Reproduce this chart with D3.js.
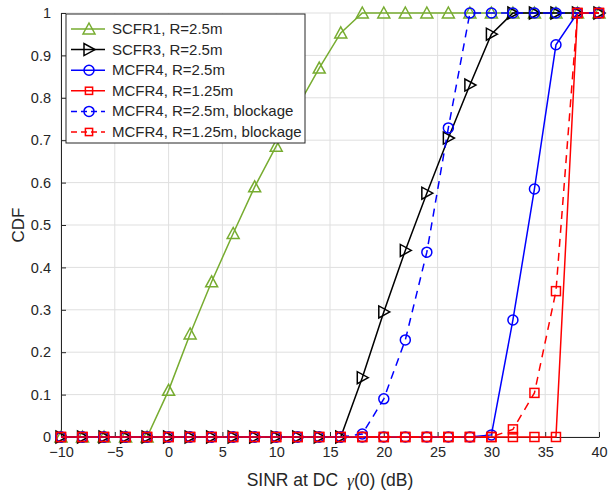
<!DOCTYPE html>
<html>
<head>
<meta charset="utf-8">
<script src="https://cdnjs.cloudflare.com/ajax/libs/d3/7.8.5/d3.min.js"></script>
<style>
body { margin: 0; background: #fff; }
svg text { font-family: Arial, "Liberation Sans", sans-serif; fill: #262626; }
</style>
</head>
<body>
<svg id="chart" width="609" height="495"></svg>
<script>
// SINR samples (dB), -10 .. 40 step 2
const sinr = d3.range(-10, 41, 2);

const scfr1   = [0,0,0,0,0,0.11,0.243,0.366,0.48,0.59,0.686,0.78,0.87,0.953,1,1,1,1,1,1,1,1,1,1,1,1];
const scfr3   = [0,0,0,0,0,0,0,0,0,0,0,0,0,0,0.14,0.295,0.44,0.575,0.705,0.83,0.95,1,1,1,1,1];
const mcfr4   = [0,0,0,0,0,0,0,0,0,0,0,0,0,0,0,0,0,0,0,0,0.005,0.276,0.585,0.925,1,1];
const mcfr4s  = [0,0,0,0,0,0,0,0,0,0,0,0,0,0,0,0,0,0,0,0,0,0,0,0,1,1];
const mcfr4b  = [0,0,0,0,0,0,0,0,0,0,0,0,0,0,0.007,0.09,0.229,0.436,0.729,1,1,1,1,1,1,1];
const mcfr4sb = [0,0,0,0,0,0,0,0,0,0,0,0,0,0,0,0,0,0,0,0,0,0.018,0.104,0.344,1,1];

const xTicks = d3.range(-10, 41, 5);
const yTicks = d3.range(0, 1.01, 0.1);

const series = [
  { name: 'SCFR1, R=2.5m', vals: scfr1, color: '#77AC30', marker: 'tri-up', dash: null },
  { name: 'SCFR3, R=2.5m', vals: scfr3, color: '#000000', marker: 'tri-right', dash: null },
  { name: 'MCFR4, R=2.5m', vals: mcfr4, color: '#0000FF', marker: 'circle', dash: null },
  { name: 'MCFR4, R=1.25m', vals: mcfr4s, color: '#FF0000', marker: 'square', dash: null },
  { name: 'MCFR4, R=2.5m, blockage', vals: mcfr4b, color: '#0000FF', marker: 'circle', dash: '8,6' },
  { name: 'MCFR4, R=1.25m, blockage', vals: mcfr4sb, color: '#FF0000', marker: 'square', dash: '8,6' }
];

const svg = d3.select('#chart');
const margin = { left: 61, right: 10, top: 13, bottom: 58 };
const W = 609, H = 495;

const x = d3.scaleLinear().domain([-10, 40]).range([margin.left, W - margin.right]);
const y = d3.scaleLinear().domain([0, 1]).range([H - margin.bottom, margin.top]);

// grid
const grid = svg.append('g');
grid.selectAll('line.gx').data(xTicks).enter().append('line')
  .attr('x1', d => x(d)).attr('x2', d => x(d))
  .attr('y1', y(0)).attr('y2', y(1))
  .attr('stroke', '#dfdfdf').attr('stroke-width', 1);
grid.selectAll('line.gy').data(yTicks).enter().append('line')
  .attr('y1', d => y(d)).attr('y2', d => y(d))
  .attr('x1', x(-10)).attr('x2', x(40))
  .attr('stroke', '#dfdfdf').attr('stroke-width', 1);

// axes
const xAxis = svg.append('g')
  .attr('transform', `translate(0,${y(0)})`)
  .call(d3.axisBottom(x).tickValues(xTicks).tickSizeInner(-5).tickSizeOuter(0).tickPadding(10));
const yAxis = svg.append('g')
  .attr('transform', `translate(${x(-10)},0)`)
  .call(d3.axisLeft(y).tickValues(yTicks).tickSizeInner(-5).tickSizeOuter(0).tickPadding(10)
    .tickFormat(d => d3.format('.1~f')(d)));
[xAxis, yAxis].forEach(a => {
  a.select('.domain').attr('stroke', '#262626');
  a.selectAll('.tick line').attr('stroke', '#262626');
  a.selectAll('.tick text').attr('font-size', 14.5).attr('fill', '#262626')
    .attr('font-family', 'Arial, "Liberation Sans", sans-serif');
});

// axis labels
const xl = svg.append('text')
  .attr('x', (x(-10) + x(40)) / 2).attr('y', 486)
  .attr('text-anchor', 'middle').attr('font-size', 17.5);
xl.append('tspan').text('SINR at DC');
xl.append('tspan').attr('dx', 9).text('γ').attr('font-family', '"Liberation Serif", "DejaVu Serif", serif').attr('font-style', 'italic');
xl.append('tspan').text('(0) (dB)');

svg.append('text')
  .attr('transform', `translate(24,${(y(0) + y(1)) / 2}) rotate(-90)`)
  .attr('text-anchor', 'middle').attr('font-size', 17).text('CDF');

// markers
function drawMarker(g, type, color, cx, cy, sc) {
  sc = sc || 1;
  if (type === 'circle') {
    g.append('circle').attr('cx', cx).attr('cy', cy).attr('r', 5 * sc)
      .attr('fill', 'none').attr('stroke', color).attr('stroke-width', 1.5);
  } else if (type === 'square') {
    const h = 4.5 * sc;
    g.append('rect').attr('x', cx - h).attr('y', cy - h).attr('width', 2 * h).attr('height', 2 * h)
      .attr('fill', 'none').attr('stroke', color).attr('stroke-width', 1.5);
  } else if (type === 'tri-up') {
    g.append('path').attr('d', `M${cx},${cy - 6 * sc}L${cx + 6 * sc},${cy + 5 * sc}L${cx - 6 * sc},${cy + 5 * sc}Z`)
      .attr('fill', 'none').attr('stroke', color).attr('stroke-width', 1.5);
  } else if (type === 'tri-right') {
    g.append('path').attr('d', `M${cx + 6 * sc},${cy}L${cx - 5 * sc},${cy + 6 * sc}L${cx - 5 * sc},${cy - 6 * sc}Z`)
      .attr('fill', 'none').attr('stroke', color).attr('stroke-width', 1.5);
  }
}

const line = d3.line().x(d => x(d[0])).y(d => y(d[1]));
series.forEach(s => {
  const pts = sinr.map((v, i) => [v, s.vals[i]]);
  const g = svg.append('g');
  g.append('path').datum(pts).attr('d', line)
    .attr('fill', 'none').attr('stroke', s.color).attr('stroke-width', 1.5)
    .attr('stroke-dasharray', s.dash);
  pts.forEach(p => drawMarker(g, s.marker, s.color, x(p[0]), y(p[1])));
});

// legend
const lg = svg.append('g');
lg.append('rect').attr('x', 66).attr('y', 14).attr('width', 239).attr('height', 129)
  .attr('fill', '#fff').attr('stroke', '#262626').attr('stroke-width', 1);
series.forEach((s, i) => {
  const ly = 29 + i * 20.6;
  lg.append('line').attr('x1', 71).attr('x2', 105).attr('y1', ly).attr('y2', ly)
    .attr('stroke', s.color).attr('stroke-width', 1.5).attr('stroke-dasharray', s.dash ? '6,4' : null);
  drawMarker(lg, s.marker, s.color, 89, ly, s.marker === 'square' ? 0.8 : 1);
  lg.append('text').attr('x', 112).attr('y', ly + 5).attr('font-size', 15).text(s.name);
});
</script>
</body>
</html>
